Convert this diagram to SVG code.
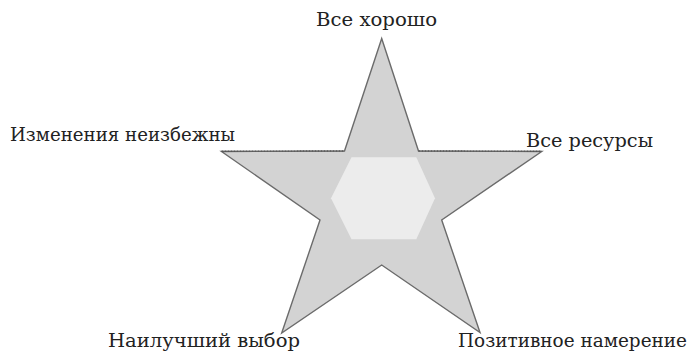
<svg xmlns="http://www.w3.org/2000/svg" width="694" height="351" viewBox="0 0 694 351">
<style>
text{font-family:"DejaVu Serif","Liberation Serif",serif;font-size:18px;fill:#222}
.star{fill:#d3d3d3;stroke:#6b6b6b;stroke-width:1.4;stroke-linejoin:miter}
.dash{stroke:#555;stroke-width:1.4;stroke-dasharray:2 1;fill:none}
.hex{fill:#ececec;stroke:none}
</style>
<rect width="694" height="351" fill="#fff"/>
<g id="star">
<polygon class="star" points="381.7,38.5 418.5,151 541.7,151.5 441.7,220 480,332.5 381.7,265 281.7,333 320,220 221.5,151.5 344.5,151"/>
</g>
<g id="connectors">
<line class="dash" x1="221.5" y1="151.2" x2="344.5" y2="151"/>
<line class="dash" x1="418.5" y1="151" x2="541.7" y2="151.2"/>
</g>
<g id="center">
<polygon class="hex" points="351.5,157.3 416.3,157.3 435,198.3 416.3,239.3 351.5,239.3 331,198.3"/>
</g>
<g id="top"><text x="316" y="26" textLength="121" lengthAdjust="spacingAndGlyphs">Все хорошо</text></g>
<g id="left"><text x="10" y="140.7" textLength="225" lengthAdjust="spacingAndGlyphs">Изменения неизбежны</text></g>
<g id="right"><text x="526" y="147" textLength="127" lengthAdjust="spacingAndGlyphs">Все ресурсы</text></g>
<g id="bottomleft"><text x="108" y="346.7" textLength="192" lengthAdjust="spacingAndGlyphs">Наилучший выбор</text></g>
<g id="bottomright"><text x="458" y="346.7" textLength="229" lengthAdjust="spacingAndGlyphs">Позитивное намерение</text></g>
</svg>
